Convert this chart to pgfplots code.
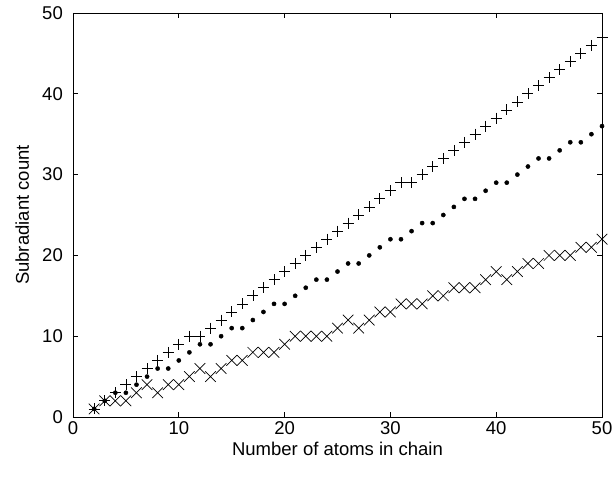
\documentclass[border=0pt]{standalone}
\usepackage{fontspec}
\setmainfont{Liberation Sans}
\usepackage{pgfplots}
\pgfplotsset{compat=1.18}
\begin{document}
\begin{tikzpicture}
\begin{axis}[
  scale only axis, width=529pt, height=404pt,
  xmin=0, xmax=50, ymin=0, ymax=50,
  xtick={0,10,...,50}, ytick={0,10,...,50},
  tick align=inside, major tick length=5pt,
  font=\fontsize{18.5}{22}\selectfont,
  /pgf/number format/assume math mode=true,
  xlabel={Number of atoms in chain},
  ylabel={Subradiant count},
  axis line style={line width=0.6pt},
  every tick/.style={black, line width=0.6pt},
  xticklabel style={anchor=base, inner sep=0pt, yshift=-17pt},
  yticklabel style={anchor=east, inner sep=0pt, xshift=-10pt},
  xlabel style={at={([yshift=-38pt]axis description cs:0.5,0)}, anchor=base, inner sep=0pt},
  ylabel style={at={([xshift=-44pt]axis description cs:0,0.5)}, anchor=base, inner sep=0pt},
]
\addplot[only marks, mark=+, mark size=5.5pt, line width=0.7pt] coordinates {
(2,1)(3,2)(4,3)(5,4)(6,5)(7,6)(8,7)(9,8)(10,9)(11,10)
(12,10)(13,11)(14,12)(15,13)(16,14)(17,15)(18,16)(19,17)(20,18)(21,19)
(22,20)(23,21)(24,22)(25,23)(26,24)(27,25)(28,26)(29,27)(30,28)(31,29)
(32,29)(33,30)(34,31)(35,32)(36,33)(37,34)(38,35)(39,36)(40,37)(41,38)
(42,39)(43,40)(44,41)(45,42)(46,43)(47,44)(48,45)(49,46)(50,47)};
\addplot[only marks, mark=*, mark size=2.1pt] coordinates {
(2,1)(3,2)(4,3)(5,3)(6,4)(7,5)(8,6)(9,6)(10,7)(11,8)
(12,9)(13,9)(14,10)(15,11)(16,11)(17,12)(18,13)(19,14)(20,14)(21,15)
(22,16)(23,17)(24,17)(25,18)(26,19)(27,19)(28,20)(29,21)(30,22)(31,22)
(32,23)(33,24)(34,24)(35,25)(36,26)(37,27)(38,27)(39,28)(40,29)(41,29)
(42,30)(43,31)(44,32)(45,32)(46,33)(47,34)(48,34)(49,35)(50,36)};
\addplot[only marks, mark=x, mark size=7.5pt, line width=0.7pt] coordinates {
(2,1)(3,2)(4,2)(5,2)(6,3)(7,4)(8,3)(9,4)(10,4)(11,5)
(12,6)(13,5)(14,6)(15,7)(16,7)(17,8)(18,8)(19,8)(20,9)(21,10)
(22,10)(23,10)(24,10)(25,11)(26,12)(27,11)(28,12)(29,13)(30,13)(31,14)
(32,14)(33,14)(34,15)(35,15)(36,16)(37,16)(38,16)(39,17)(40,18)(41,17)
(42,18)(43,19)(44,19)(45,20)(46,20)(47,20)(48,21)(49,21)(50,22)};
\end{axis}
\pgfresetboundingbox
\path ([shift={(-73pt,-60pt)}]current axis.south west) rectangle ([shift={(14pt,13pt)}]current axis.north east);
\end{tikzpicture}
\end{document}
